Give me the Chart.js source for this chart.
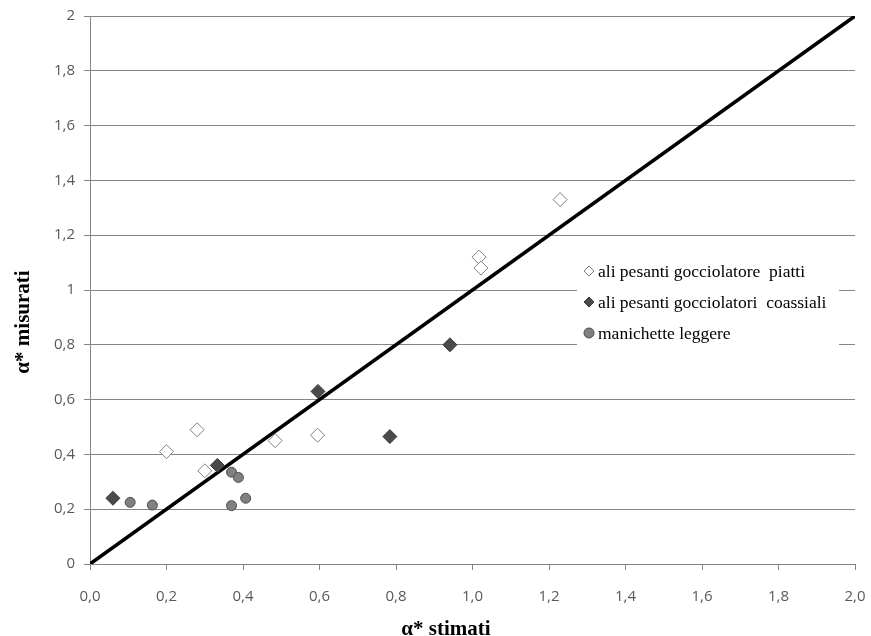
<!DOCTYPE html>
<html>
<head>
<meta charset="utf-8">
<script src="https://cdn.jsdelivr.net/npm/chart.js@4/dist/chart.umd.min.js"></script>
<style>
  html, body { margin: 0; padding: 0; background: #fff; overflow: hidden; }
  #wrap { width: 871px; height: 636px; position: relative; }
</style>
</head>
<body>
<div id="wrap"><canvas id="alphaChart"></canvas></div>
<script>
// series names
const seriesNames = [
  "ali pesanti gocciolatore  piatti",
  "ali pesanti gocciolatori  coassiali",
  "manichette leggere"
];

// ali pesanti gocciolatore piatti (open diamonds)
const piattiX = [0.20, 0.28, 0.30, 0.484, 0.595, 1.017, 1.022, 1.229];
const piattiY = [0.41, 0.49, 0.34, 0.45, 0.47, 1.12, 1.08, 1.33];

// ali pesanti gocciolatori coassiali (filled diamonds)
const coassialiX = [0.06, 0.333, 0.596, 0.784, 0.941];
const coassialiY = [0.24, 0.36, 0.63, 0.465, 0.80];

// manichette leggere (circles)
const manichetteX = [0.105, 0.163, 0.37, 0.388, 0.37, 0.407];
const manichetteY = [0.225, 0.215, 0.335, 0.316, 0.213, 0.24];

// bisettrice y = x
const lineX = [0, 2];
const lineY = [0, 2];

const xTitle = "α* stimati";
const yTitle = "α* misurati";

function toPoints(xs, ys) {
  return xs.map((x, i) => ({ x: x, y: ys[i] }));
}

const gridColor = "#868686";
const tickFont = { family: "'Open Sans', 'Liberation Sans', sans-serif", size: 15 };
const serif = "'Liberation Serif', 'DejaVu Serif', serif";

// custom styles for the legend markers
const legendStyles = [
  { style: "rectRot", radius: 5, fill: "#ffffff", stroke: "#7f7f7f" },
  { style: "rectRot", radius: 5, fill: "#4a4a4a", stroke: "#3a3a3a" },
  { style: "circle", radius: 5, fill: "#808080", stroke: "#4f4f4f" }
];

// legend box + axis titles drawn by hand (Excel-like placement)
const extrasPlugin = {
  id: "extras",
  afterDraw(chart) {
    const ctx = chart.ctx;
    ctx.save();

    // legend
    ctx.fillStyle = "#ffffff";
    ctx.fillRect(577, 250, 262, 110);
    const rows = [271, 302, 333];
    ctx.font = "17.5px " + serif;
    ctx.textBaseline = "middle";
    ctx.textAlign = "left";
    seriesNames.forEach((name, i) => {
      const s = legendStyles[i];
      ctx.fillStyle = s.fill;
      ctx.strokeStyle = s.stroke;
      ctx.lineWidth = 1;
      Chart.helpers.drawPoint(ctx, { pointStyle: s.style, radius: s.radius, borderWidth: 1 }, 589, rows[i]);
      ctx.fillStyle = "#000000";
      ctx.fillText(name, 598, rows[i] + 1);
    });

    // axis titles
    ctx.fillStyle = "#000000";
    ctx.font = "bold 21px " + serif;
    ctx.textAlign = "center";
    ctx.textBaseline = "middle";
    ctx.fillText(xTitle, 446, 630);

    ctx.translate(24, 322);
    ctx.rotate(-Math.PI / 2);
    ctx.fillText(yTitle, 0, 0);
    ctx.restore();
  }
};

const ctx = document.getElementById("alphaChart").getContext("2d");

new Chart(ctx, {
  type: "scatter",
  data: {
    datasets: [
      {
        label: "bisettrice",
        data: toPoints(lineX, lineY),
        showLine: true,
        borderColor: "#000000",
        borderWidth: 3.5,
        pointRadius: 0,
        order: 4
      },
      {
        label: seriesNames[0],
        data: toPoints(piattiX, piattiY),
        pointStyle: "rectRot",
        pointRadius: 7,
        backgroundColor: "#ffffff",
        borderColor: "#7f7f7f",
        borderWidth: 1,
        order: 1
      },
      {
        label: seriesNames[1],
        data: toPoints(coassialiX, coassialiY),
        pointStyle: "rectRot",
        pointRadius: 7,
        backgroundColor: "#4a4a4a",
        borderColor: "#3a3a3a",
        borderWidth: 1,
        order: 2
      },
      {
        label: seriesNames[2],
        data: toPoints(manichetteX, manichetteY),
        pointStyle: "circle",
        pointRadius: 5,
        backgroundColor: "#808080",
        borderColor: "#4f4f4f",
        borderWidth: 1,
        order: 3
      }
    ]
  },
  options: {
    responsive: true,
    maintainAspectRatio: false,
    animation: false,
    layout: { padding: { top: 16, right: 16, left: 0, bottom: 0 } },
    plugins: {
      legend: { display: false },
      tooltip: { enabled: false }
    },
    scales: {
      x: {
        type: "linear",
        min: 0,
        max: 2,
        afterFit: (scale) => {
          scale.height = 72;
          scale.paddingRight = 0;
          scale.paddingLeft = 0;
        },
        ticks: {
          stepSize: 0.2,
          color: "#595959",
          font: tickFont,
          padding: 18,
          maxRotation: 0,
          callback: (v) => (Math.round(v * 10) / 10).toFixed(1).replace(".", ",")
        },
        grid: {
          drawOnChartArea: false,
          drawTicks: true,
          tickLength: 6,
          color: gridColor
        },
        border: { color: gridColor, width: 1 }
      },
      y: {
        type: "linear",
        min: 0,
        max: 2,
        afterFit: (scale) => {
          scale.width = 90;
          scale.paddingTop = 0;
          scale.paddingBottom = 0;
        },
        ticks: {
          stepSize: 0.2,
          color: "#595959",
          font: tickFont,
          padding: 9,
          callback: (v) => String(Math.round(v * 10) / 10).replace(".", ",")
        },
        grid: {
          color: gridColor,
          tickLength: 6,
          lineWidth: 1
        },
        border: { color: gridColor, width: 1 }
      }
    }
  },
  plugins: [extrasPlugin]
});
</script>
</body>
</html>
